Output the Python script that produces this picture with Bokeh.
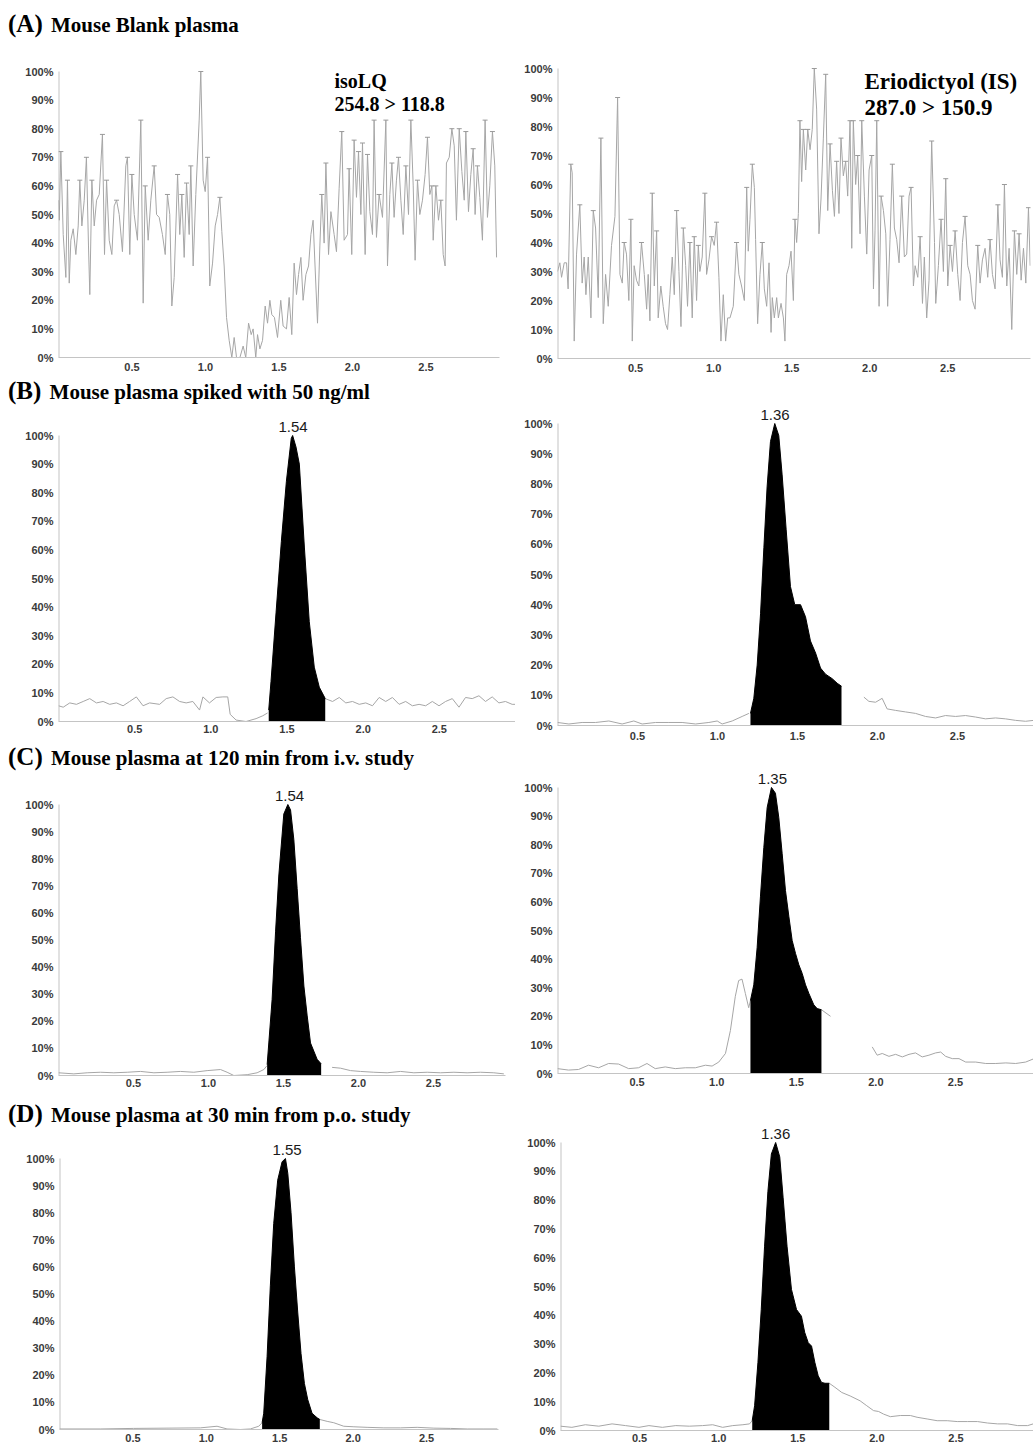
from bokeh.plotting import figure
from bokeh.layouts import column, row
from bokeh.models import Label, FixedTicker, Range1d, NumeralTickFormatter, PrintfTickFormatter, Div
from bokeh.embed import file_html
from bokeh.resources import INLINE

# ---------------- data (time in min, intensity in %) ----------------
A_ISO = [(0.000,55),(0.005,48),(0.016,72),(0.032,43),(0.050,28),(0.061,62),(0.073,26),(0.084,41),(0.100,45),(0.118,36),
 (0.134,46),(0.145,62),(0.159,46),(0.175,55),(0.190,70),(0.204,39),(0.213,22),(0.227,62),(0.243,46),(0.259,55),
 (0.277,57),(0.299,78),(0.313,36),(0.327,62),(0.345,41),(0.363,36),(0.379,53),(0.395,55),(0.413,50),(0.435,37),
 (0.458,67),(0.469,70),(0.485,36),(0.499,64),(0.515,50),(0.537,41),(0.560,83),(0.576,19),(0.590,60),(0.610,41),
 (0.628,55),(0.651,67),(0.667,50),(0.685,49),(0.707,43),(0.726,36),(0.741,57),(0.757,50),(0.771,18),(0.787,28),
 (0.810,64),(0.825,43),(0.839,57),(0.855,35),(0.871,61),(0.889,43),(0.900,67),(0.916,32),(0.934,57),(0.957,83),
 (0.968,100),(0.984,62),(0.998,58),(1.014,70),(1.029,25),(1.048,33),(1.066,46),(1.082,50),(1.098,56),(1.111,44),
 (1.127,32),(1.143,14),(1.161,6),(1.179,0),(1.195,7),(1.211,0),(1.234,0),(1.256,4),(1.274,0),(1.293,12),
 (1.311,8),(1.324,10),(1.342,0),(1.354,8),(1.370,3),(1.388,6),(1.406,18),(1.422,12),(1.438,20),(1.451,15),
 (1.469,14),(1.490,7),(1.512,20),(1.528,11),(1.551,10),(1.569,21),(1.587,8),(1.603,33),(1.619,22),(1.633,29),
 (1.649,35),(1.664,20),(1.683,29),(1.701,32),(1.717,43),(1.732,48),(1.751,25),(1.762,12),(1.778,39),(1.791,57),
 (1.807,40),(1.819,68),(1.837,36),(1.853,51),(1.875,43),(1.891,37),(1.909,59),(1.927,79),(1.943,41),(1.966,43),
 (1.977,66),(1.995,36),(2.011,76),(2.027,56),(2.041,72),(2.057,50),(2.068,75),(2.086,36),(2.102,71),(2.118,51),
 (2.136,43),(2.147,83),(2.163,42),(2.181,57),(2.204,49),(2.227,83),(2.238,32),(2.254,57),(2.268,68),(2.283,49),
 (2.299,62),(2.313,70),(2.329,55),(2.345,43),(2.363,67),(2.381,50),(2.397,83),(2.413,60),(2.426,34),(2.442,62),
 (2.458,50),(2.476,55),(2.494,64),(2.510,77),(2.526,57),(2.540,60),(2.549,41),(2.567,60),(2.585,48),(2.601,55),
 (2.617,36),(2.630,32),(2.639,68),(2.658,70),(2.676,80),(2.692,74),(2.707,48),(2.726,80),(2.744,65),(2.760,55),
 (2.771,79),(2.789,51),(2.805,64),(2.821,73),(2.834,50),(2.850,67),(2.866,56),(2.884,41),(2.902,83),(2.918,49),
 (2.934,60),(2.952,79),(2.968,67),(2.980,35)]

A_IS = [(0.000,30),(0.015,33),(0.026,28),(0.043,33),(0.058,33),(0.068,24),(0.085,67),(0.094,64),(0.107,6),(0.122,36),
 (0.143,53),(0.158,26),(0.171,35),(0.182,22),(0.197,35),(0.214,14),(0.229,51),(0.244,45),(0.261,21),(0.278,76),
 (0.293,12),(0.308,29),(0.325,18),(0.346,39),(0.368,49),(0.385,90),(0.400,29),(0.415,26),(0.427,40),(0.442,36),
 (0.457,20),(0.470,48),(0.479,6),(0.491,32),(0.506,27),(0.521,25),(0.538,40),(0.556,29),(0.571,17),(0.581,29),
 (0.592,13),(0.607,57),(0.620,25),(0.635,44),(0.645,14),(0.662,25),(0.677,18),(0.692,12),(0.705,10),(0.720,22),
 (0.735,35),(0.748,22),(0.763,51),(0.778,30),(0.791,11),(0.806,45),(0.821,32),(0.833,18),(0.848,40),(0.863,14),
 (0.876,42),(0.891,20),(0.902,39),(0.912,30),(0.927,35),(0.944,57),(0.955,29),(0.970,34),(0.987,42),(1.004,39),
 (1.019,47),(1.034,28),(1.047,6),(1.062,22),(1.077,6),(1.090,14),(1.105,14),(1.126,18),(1.147,40),(1.162,29),
 (1.179,25),(1.197,20),(1.212,59),(1.222,37),(1.233,48),(1.248,67),(1.261,59),(1.269,41),(1.282,12),(1.297,29),
 (1.312,40),(1.325,24),(1.340,18),(1.355,33),(1.368,9),(1.376,21),(1.389,14),(1.404,21),(1.415,14),(1.432,19),
 (1.447,14),(1.457,6),(1.468,29),(1.483,32),(1.496,37),(1.511,20),(1.521,48),(1.532,40),(1.543,50),(1.553,82),
 (1.564,61),(1.575,79),(1.590,65),(1.603,79),(1.618,72),(1.632,79),(1.645,100),(1.660,86),(1.675,43),(1.688,55),
 (1.703,76),(1.718,98),(1.731,51),(1.746,74),(1.761,58),(1.774,49),(1.788,68),(1.803,50),(1.816,76),(1.831,63),
 (1.846,68),(1.859,56),(1.874,82),(1.885,38),(1.895,82),(1.910,60),(1.923,70),(1.938,43),(1.949,82),(1.966,56),
 (1.981,36),(1.996,65),(2.013,70),(2.024,24),(2.034,44),(2.045,82),(2.060,18),(2.073,56),(2.088,51),(2.103,43),
 (2.115,18),(2.130,41),(2.145,67),(2.158,45),(2.173,41),(2.188,33),(2.205,56),(2.222,35),(2.237,36),(2.252,56),
 (2.265,59),(2.280,25),(2.291,32),(2.308,28),(2.323,42),(2.338,19),(2.350,35),(2.365,14),(2.380,27),(2.397,75),
 (2.415,40),(2.423,19),(2.440,32),(2.457,48),(2.472,30),(2.487,62),(2.500,25),(2.515,39),(2.530,30),(2.547,44),
 (2.564,29),(2.579,20),(2.594,40),(2.611,49),(2.628,32),(2.643,29),(2.658,20),(2.675,17),(2.692,39),(2.707,26),
 (2.722,34),(2.739,38),(2.756,28),(2.771,41),(2.786,29),(2.803,24),(2.821,53),(2.835,34),(2.850,28),(2.863,60),
 (2.878,25),(2.893,38),(2.910,10),(2.927,44),(2.942,29),(2.957,43),(2.970,27),(2.985,38),(3.000,26),(3.017,52),
 (3.028,32)]

# (B) spiked 50 ng/ml
B_ISO_PRE = [(0.000,5.5),(0.031,5),(0.074,6.5),(0.118,6),(0.162,7),(0.205,8),(0.249,6.5),(0.293,7),(0.336,6),(0.380,6.5),
 (0.424,5.5),(0.467,7),(0.511,8.6),(0.555,5.5),(0.598,6.5),(0.664,6),(0.707,8),(0.751,8.6),(0.795,7),(0.838,6.5),
 (0.882,7),(0.926,4),(0.948,8.6),(0.991,6.5),(1.035,8.4),(1.079,8.6),(1.111,8.6),(1.127,2.5),(1.166,0.5),(1.231,0),
 (1.297,1),(1.341,2),(1.373,3)]
B_ISO_PEAK = [(1.380,4),(1.395,14),(1.428,38),(1.463,63),(1.496,84),(1.528,99),(1.537,100),(1.559,96),(1.581,90),
 (1.614,61),(1.646,35),(1.679,19),(1.712,12),(1.751,8)]
B_ISO_POST = [(1.751,8),(1.799,7),(1.843,8.4),(1.886,6.5),(1.930,7),(1.974,6),(2.017,6.5),(2.061,5.5),(2.105,8.4),
 (2.148,7),(2.192,8.4),(2.236,6),(2.279,7),(2.323,5.5),(2.367,6),(2.410,5.5),(2.454,7),(2.498,5.5),(2.541,7),
 (2.585,8),(2.629,5),(2.672,8.4),(2.716,8),(2.760,9),(2.803,7),(2.847,8.6),(2.891,6.5),(2.934,7),(2.978,6),(3.000,6)]

B_IS_PRE = [(0.000,1),(0.071,0.5),(0.154,1),(0.238,1),(0.321,1.5),(0.404,0.5),(0.477,1.5),(0.529,0.5),(0.613,1),
 (0.696,1),(0.779,1),(0.863,0.5),(0.946,1),(0.998,1.5),(1.029,0.5),(1.092,1.5),(1.154,3),(1.196,4)]
B_IS_PEAK = [(1.206,4),(1.227,9),(1.248,20),(1.269,37),(1.290,59),(1.310,79),(1.331,94),(1.358,100),(1.383,96),
 (1.404,83),(1.429,65),(1.456,46),(1.483,40),(1.519,40),(1.550,36),(1.581,28),(1.613,24),(1.644,19),(1.675,17),
 (1.717,15.5),(1.748,14),(1.775,13)]
B_IS_POST = [(1.915,9.4),(1.946,8),(1.988,7.7),(2.029,9),(2.060,5.5),(2.113,5),(2.175,4.5),(2.238,4),(2.300,3),
 (2.363,2.5),(2.425,3.3),(2.488,3),(2.550,3.3),(2.613,2.8),(2.675,2.2),(2.738,2.5),(2.800,2.2),(2.863,1.7),
 (2.925,1.4),(2.977,1.7)]

# (C) 120 min i.v.
C_ISO_PRE = [(0.000,1),(0.102,0.6),(0.191,1),(0.280,1.2),(0.369,1),(0.458,1.2),(0.547,1.5),(0.636,1),(0.724,1.2),
 (0.813,1.5),(0.902,1.2),(0.991,1.8),(1.080,2.2),(1.124,1.2),(1.169,0),(1.258,0.3),(1.324,1),(1.369,2.2),(1.391,3.7)]
C_ISO_PEAK = [(1.391,4),(1.402,12),(1.424,28),(1.447,53),(1.469,74),(1.502,96.5),(1.529,100),(1.547,98),(1.569,87),
 (1.591,69),(1.613,51),(1.636,33),(1.658,22),(1.680,12),(1.702,9),(1.724,6),(1.751,4.3)]
C_ISO_POST = [(1.824,3),(1.880,2.7),(1.947,1.8),(2.013,1.5),(2.102,1.2),(2.191,1),(2.280,1.5),(2.369,1),(2.458,1.2),
 (2.547,1),(2.636,1.2),(2.724,1),(2.813,1.2),(2.902,1),(2.969,0.6)]

C_IS_PRE = [(0.000,1.7),(0.069,1.2),(0.132,1.4),(0.195,2.9),(0.258,2),(0.321,3.5),(0.384,3.3),(0.447,1.7),(0.509,2),
 (0.562,3.5),(0.614,1.7),(0.677,2.3),(0.740,1.7),(0.803,2),(0.866,2),(0.929,2.9),(0.971,2.6),(1.013,4),(1.055,7),
 (1.086,15),(1.117,27),(1.138,32.5),(1.159,33),(1.180,28),(1.201,23),(1.212,25.5)]
C_IS_PEAK = [(1.212,25.5),(1.233,31),(1.254,44),(1.275,62),(1.296,79),(1.317,93),(1.344,100),(1.369,98),(1.390,89.5),
 (1.411,77),(1.432,64),(1.453,55),(1.474,46.5),(1.495,42),(1.516,38),(1.537,35),(1.558,31),(1.579,28),(1.610,24),
 (1.631,22.7),(1.658,22.3)]
C_IS_TAIL = [(1.658,22.3),(1.715,20)]
C_IS_POST = [(1.977,9.3),(2.008,6.4),(2.040,7),(2.082,6),(2.124,6.7),(2.166,5.8),(2.208,6.7),(2.249,7.2),(2.291,5.8),
 (2.333,6.4),(2.375,7.2),(2.407,7.5),(2.438,6),(2.480,5.2),(2.522,5.2),(2.564,4),(2.627,4),(2.690,3.5),(2.753,3.5),
 (2.816,3.7),(2.878,3.5),(2.941,4),(2.994,5.2)]

# (D) 30 min p.o.
D_ISO_PRE = [(0.000,0.2),(0.277,0.2),(0.505,0.4),(0.732,0.5),(0.959,0.6),(1.073,1.2),(1.141,0.2),(1.232,0),(1.300,0.2),
 (1.357,1.2),(1.380,2.5)]
D_ISO_PEAK = [(1.380,2.5),(1.391,6),(1.414,27),(1.436,53),(1.459,76),(1.486,92),(1.516,98.8),(1.539,100),(1.555,94.5),
 (1.577,80),(1.600,60),(1.623,43),(1.645,28),(1.668,17),(1.691,11),(1.720,6),(1.755,4.3),(1.773,3.7)]
D_ISO_POST = [(1.773,3.7),(1.823,3),(1.868,2.5),(1.936,1.2),(2.005,1),(2.095,0.8),(2.209,0.6),(2.323,0.6),(2.436,0.8),
 (2.550,0.5),(2.664,0.4),(2.777,0.2),(2.891,0.2),(2.982,0.2)]

D_IS_PRE = [(0.000,1.5),(0.072,1.1),(0.157,2),(0.242,1.5),(0.326,2.3),(0.411,1.7),(0.496,1.1),(0.559,1.7),(0.644,1.1),
 (0.729,1.7),(0.814,1.5),(0.898,1.7),(0.962,2),(1.025,1.1),(1.089,1.7),(1.153,2),(1.195,2.3),(1.212,3.4)]
D_IS_PEAK = [(1.212,3.4),(1.227,8.6),(1.248,23.6),(1.269,42),(1.290,64),(1.311,83),(1.333,96),(1.360,100),(1.386,95),
 (1.407,81),(1.432,64),(1.460,49),(1.492,42),(1.523,39.7),(1.544,34),(1.566,30.5),(1.587,29.3),(1.608,23.6),
 (1.629,19),(1.650,16.7),(1.672,16.4),(1.699,16.4)]
D_IS_POST = [(1.699,16.4),(1.735,15),(1.778,13.2),(1.831,12),(1.894,10.3),(1.936,8.6),(1.979,6.9),(2.011,6.6),
 (2.042,5.7),(2.085,4.8),(2.148,5.2),(2.212,5.2),(2.254,4.6),(2.318,4),(2.381,3.4),(2.445,3.4),(2.508,3.1),
 (2.572,3.1),(2.636,3.1),(2.699,2.6),(2.763,2.3),(2.826,2.3),(2.890,1.7),(2.953,1.7),(3.006,2.6)]

PEAK_RT = {"B_iso": "1.54", "B_is": "1.36", "C_iso": "1.54", "C_is": "1.35", "D_iso": "1.55", "D_is": "1.36"}

ROW_TITLES = [("(A)", "Mouse Blank plasma"),
              ("(B)", "Mouse plasma spiked with 50 ng/ml"),
              ("(C)", "Mouse plasma at 120 min from i.v. study"),
              ("(D)", "Mouse plasma at 30 min from p.o. study")]

X_TICKS = [0.5, 1.0, 1.5, 2.0, 2.5]
Y_TICKS = [0, 10, 20, 30, 40, 50, 60, 70, 80, 90, 100]

TRACE = "#a6a6a6"
AXIS = "#c4c4c4"
TICKTXT = "#3a3a3a"
SERIF = "Liberation Serif"
SANS = "Liberation Sans"

LW, RW = 515, 518


def xs(seq):
    return [p[0] for p in seq]


def ys(seq):
    return [p[1] for p in seq]


def make_fig(w, fig_top, fig_bottom, top100, zero, bl, br, x_end, xstand):
    bt = 2
    frame_top = fig_top + bt
    y_end = 100.0 * (zero - frame_top) / (zero - top100)
    p = figure(width=w, height=fig_bottom - fig_top, x_range=Range1d(0, x_end), y_range=Range1d(0, y_end),
               output_backend="svg", toolbar_location=None,
               min_border_left=bl, min_border_right=br, min_border_top=bt,
               min_border_bottom=fig_bottom - zero)
    p.grid.visible = False
    p.outline_line_color = None
    p.background_fill_color = "white"
    p.border_fill_color = "white"
    p.xaxis.ticker = FixedTicker(ticks=X_TICKS)
    p.xaxis.formatter = NumeralTickFormatter(format="0.0")
    p.yaxis.ticker = FixedTicker(ticks=Y_TICKS)
    p.yaxis.formatter = PrintfTickFormatter(format="%d%%")
    for ax in (p.xaxis[0], p.yaxis[0]):
        ax.axis_line_color = AXIS
        ax.axis_line_width = 1
        ax.major_tick_line_color = None
        ax.minor_tick_line_color = None
        ax.major_tick_out = 0
        ax.major_tick_in = 0
        ax.minor_tick_out = 0
        ax.major_label_text_font = SANS
        ax.major_label_text_font_style = "bold"
        ax.major_label_text_font_size = "11px"
        ax.major_label_text_color = TICKTXT
    p.yaxis.axis_line_color = None
    p.xaxis.major_label_standoff = xstand
    p.yaxis.major_label_standoff = 5
    # y-axis rule only spans 0-100 %
    p.line([0, 0], [0, 100], line_color=AXIS, line_width=2)
    return p


def line(p, seq):
    p.line(xs(seq), ys(seq), line_color=TRACE, line_width=1)


def peak(p, seq, rt):
    p.varea(x=xs(seq), y1=[0] * len(seq), y2=ys(seq), fill_color="black")
    p.line(xs(seq), ys(seq), line_color="black", line_width=1)
    p.add_layout(Label(x=float(rt), y=100, y_offset=4, text=rt, text_align="center",
                       text_baseline="bottom", text_font=SANS, text_font_size="15px",
                       text_color="#1a1a1a"))


def peak_marks(p, seq, thr):
    mx, my = [], []
    for i in range(1, len(seq) - 1):
        if seq[i][1] >= thr and seq[i][1] >= seq[i - 1][1] and seq[i][1] >= seq[i + 1][1]:
            mx.append(seq[i][0])
            my.append(seq[i][1])
    p.scatter(mx, my, marker="dash", size=5, line_color="#9a9a9a", line_width=1)


def title_div(idx, pad, h):
    tag, txt = ROW_TITLES[idx]
    html = ('<div style="font-family:\'Liberation Serif\',serif;font-weight:bold;font-size:21px;'
            'line-height:24px;padding-top:%dpx;padding-left:8px;white-space:nowrap;color:black;margin:0">'
            '<span style="font-size:25px;margin-right:3px">%s</span> %s</div>' % (pad, tag, txt))
    return Div(text=html, width=LW, height=h, margin=0)


def comp_label(p, dx, dy1, dy2, l1, l2, size):
    for dy, t in ((dy1, l1), (dy2, l2)):
        p.add_layout(Label(x=0, y=100, x_offset=dx, y_offset=dy, text=t, text_font=SERIF,
                           text_font_style="bold", text_font_size=size, text_baseline="alphabetic",
                           text_color="black"))


# Row A  (page y 0 - 378)
divA = title_div(0, 12, 40)
aL = make_fig(LW, 40, 378, 71, 357, 58, 16, 3.0, 5)
line(aL, A_ISO)
peak_marks(aL, A_ISO, 55)
comp_label(aL, 276, -9, -32, "isoLQ", "254.8 > 118.8", "20px")

aR = make_fig(RW, 0, 378, 68, 358, 42, 3, 3.03, 5)
line(aR, A_IS)
peak_marks(aR, A_IS, 39)
comp_label(aR, 307, -13, -39, "Eriodictyol (IS)", "287.0 > 150.9", "23px")

# Row B  (378 - 745)
divB = title_div(1, 1, 28)
bL = make_fig(LW, 406, 745, 435, 721, 58, 0, 3.0, 3)
line(bL, B_ISO_PRE)
line(bL, B_ISO_POST)
peak(bL, B_ISO_PEAK, PEAK_RT["B_iso"])

bR = make_fig(RW, 378, 745, 423, 725, 42, 0, 2.975, 6)
line(bR, B_IS_PRE)
line(bR, B_IS_POST)
peak(bR, B_IS_PEAK, PEAK_RT["B_is"])

# Row C  (745 - 1095)
divC = title_div(2, 0, 28)
cL = make_fig(LW, 773, 1095, 804, 1075, 58, 10, 2.98, 3)
line(cL, C_ISO_PRE)
line(cL, C_ISO_POST)
peak(cL, C_ISO_PEAK, PEAK_RT["C_iso"])

cR = make_fig(RW, 745, 1095, 787, 1073, 42, 0, 2.99, 4)
line(cR, C_IS_PRE)
line(cR, C_IS_TAIL)
line(cR, C_IS_POST)
peak(cR, C_IS_PEAK, PEAK_RT["C_is"])

# Row D  (1095 - 1446)
divD = title_div(3, 7, 35)
dL = make_fig(LW, 1130, 1446, 1158, 1429, 59, 17, 2.99, 4)
line(dL, D_ISO_PRE)
line(dL, D_ISO_POST)
peak(dL, D_ISO_PEAK, PEAK_RT["D_iso"])

dR = make_fig(RW, 1095, 1446, 1142, 1430, 45, 0, 2.99, 3)
line(dR, D_IS_PRE)
line(dR, D_IS_POST)
peak(dR, D_IS_PEAK, PEAK_RT["D_is"])

layout = column(
    row(column(divA, aL), aR),
    row(column(divB, bL), bR),
    row(column(divC, cL), cR),
    row(column(divD, dL), dR),
)

open("out.html", "w").write(file_html(layout, INLINE))
